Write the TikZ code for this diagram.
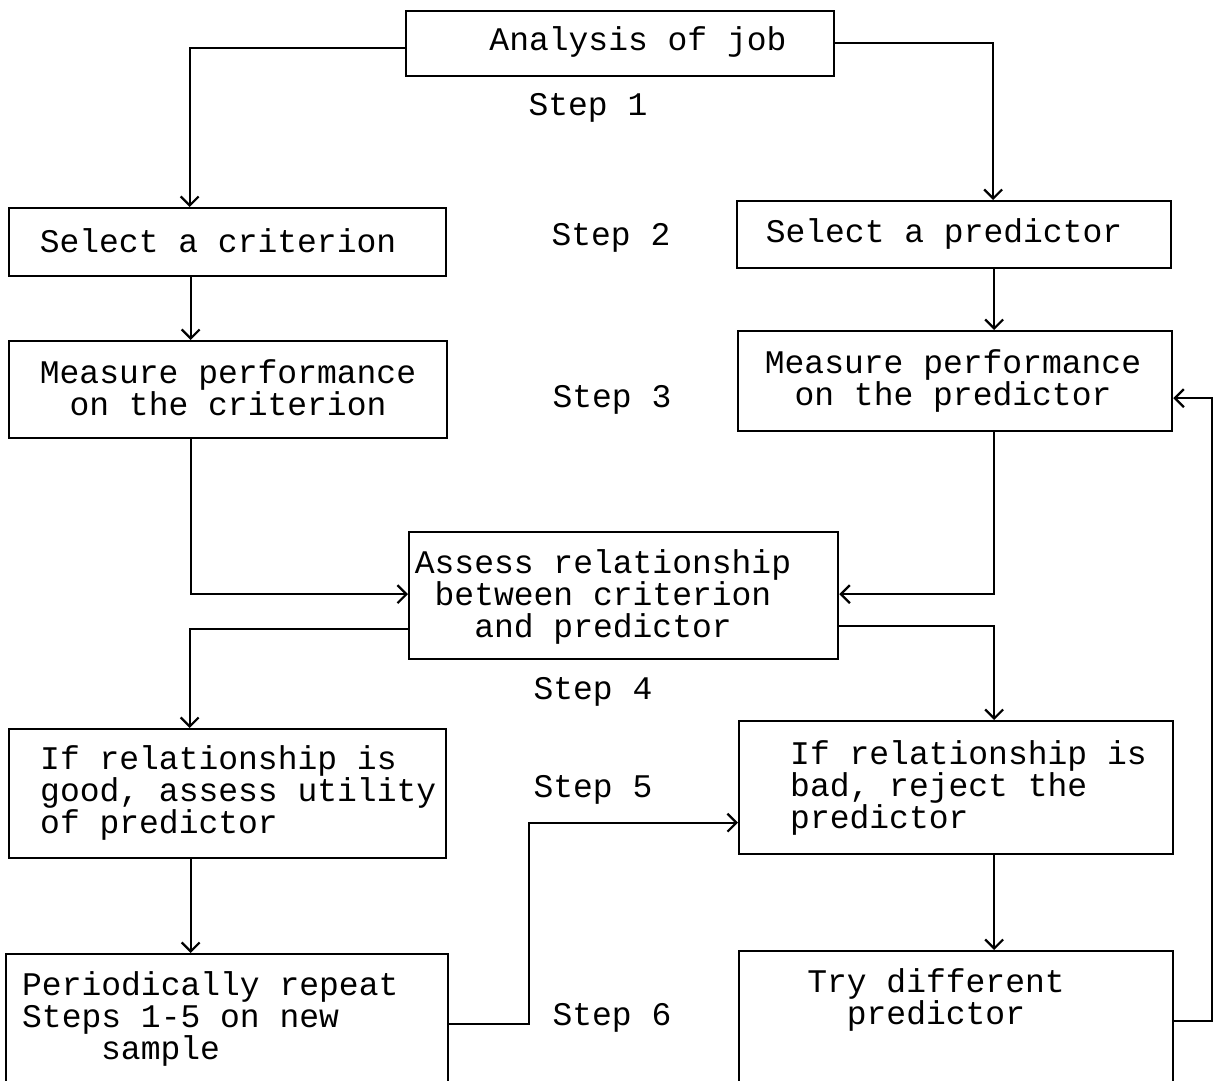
\documentclass[tikz,border=0pt]{standalone}
\usepackage{fontspec}
\setmainfont{Liberation Mono}
\usetikzlibrary{arrows.meta}
\begin{document}
\begin{tikzpicture}[x=1pt,y=-1pt,
  box/.style={draw, line width=2.3pt, anchor=north west, inner sep=0pt},
  txt/.style={inner sep=0pt, font=\fontsize{33}{32}\selectfont},
  arr/.style={line width=1.9pt, -{Straight Barb[length=9pt,width=18pt,line width=2.2pt]}},
  conn/.style={line width=1.9pt}]
\useasboundingbox (0,0) rectangle (1213,1081);
\clip (0,0) rectangle (1213,1081);
% boxes
\node[box, minimum width=428pt, minimum height=65pt] (job) at (405,10) {};
\node[box, minimum width=437pt, minimum height=68pt] (crit) at (8,207) {};
\node[box, minimum width=434pt, minimum height=67pt] (pred) at (736,200) {};
\node[box, minimum width=438pt, minimum height=97pt] (mcrit) at (8,340) {};
\node[box, minimum width=434pt, minimum height=100pt] (mpred) at (737,330) {};
\node[box, minimum width=429pt, minimum height=127pt] (assess) at (408,531) {};
\node[box, minimum width=437pt, minimum height=129pt] (good) at (8,728) {};
\node[box, minimum width=434pt, minimum height=133pt] (bad) at (738,720) {};
\node[box, minimum width=442pt, minimum height=140pt] (rep) at (5,953) {};
\node[box, minimum width=434pt, minimum height=140pt] (try) at (738,950) {};
% texts
\node[txt] (tjob) at (638,42) {Analysis of job};
\node[txt] (tcrit) at (218,241) {Select a criterion};
\node[txt] (tpred) at (944,234) {Select a predictor};
\node[txt, align=center] (tmcrit) at (228,388) {Measure performance\\on the criterion};
\node[txt, align=center] (tmpred) at (953,381) {Measure performance\\on the predictor};
\node[txt, align=center] (tassess) at (603,597) {Assess relationship\\between criterion\\and predictor};
\node[txt, align=left, anchor=west] (tgood) at (40,793) {If relationship is\\good, assess utility\\of predictor};
\node[txt, align=left, anchor=west] (tbad) at (790,788) {If relationship is\\bad, reject the\\predictor};
\node[txt, align=left, anchor=west] (trep) at (22,1019) {Periodically repeat\\Steps 1-5 on new\\\hspace*{79pt}sample};
\node[txt, align=center] (ttry) at (936,1000) {Try different\\predictor};
% step labels
\node[txt] (s1) at (588,108) {Step 1};
\node[txt] (s2) at (611,238) {Step 2};
\node[txt] (s3) at (612,400) {Step 3};
\node[txt] (s4) at (593,692) {Step 4};
\node[txt] (s5) at (593,790) {Step 5};
\node[txt] (s6) at (612,1018) {Step 6};
% connectors
\draw[arr] ([yshift=-4pt]job.west) -| ([xshift=-38pt]crit.north);
\draw[arr] ([yshift=1pt]job.east) -| ([xshift=39pt]pred.north);
\draw[arr] ([xshift=-37pt]crit.south) -- ([xshift=-37pt]crit.south |- mcrit.north);
\draw[arr] ([xshift=40pt]pred.south) -- ([xshift=40pt]pred.south |- mpred.north);
\draw[arr] ([xshift=-37pt]mcrit.south) |- ([yshift=1.5pt]assess.west);
\draw[arr] ([xshift=39pt]mpred.south) |- ([yshift=1.5pt]assess.east);
\draw[arr] ([yshift=-33.5pt]assess.west) -| ([xshift=-38pt]good.north);
\draw[arr] ([yshift=-30.5pt]assess.east) -| ([xshift=38pt]bad.north);
\draw[arr] ([xshift=-37pt]good.south) -- ([xshift=-37pt]good.south |- rep.north);
\draw[arr] ([xshift=38pt]bad.south) -- ([xshift=38pt]bad.south |- try.north);
\draw[arr] (rep.east) -- ++(80,0) |- ([yshift=-35pt]bad.west);
\draw[arr] (try.east) -- ++(38,0) |- ([yshift=-17pt]mpred.east);
\end{tikzpicture}
\end{document}
